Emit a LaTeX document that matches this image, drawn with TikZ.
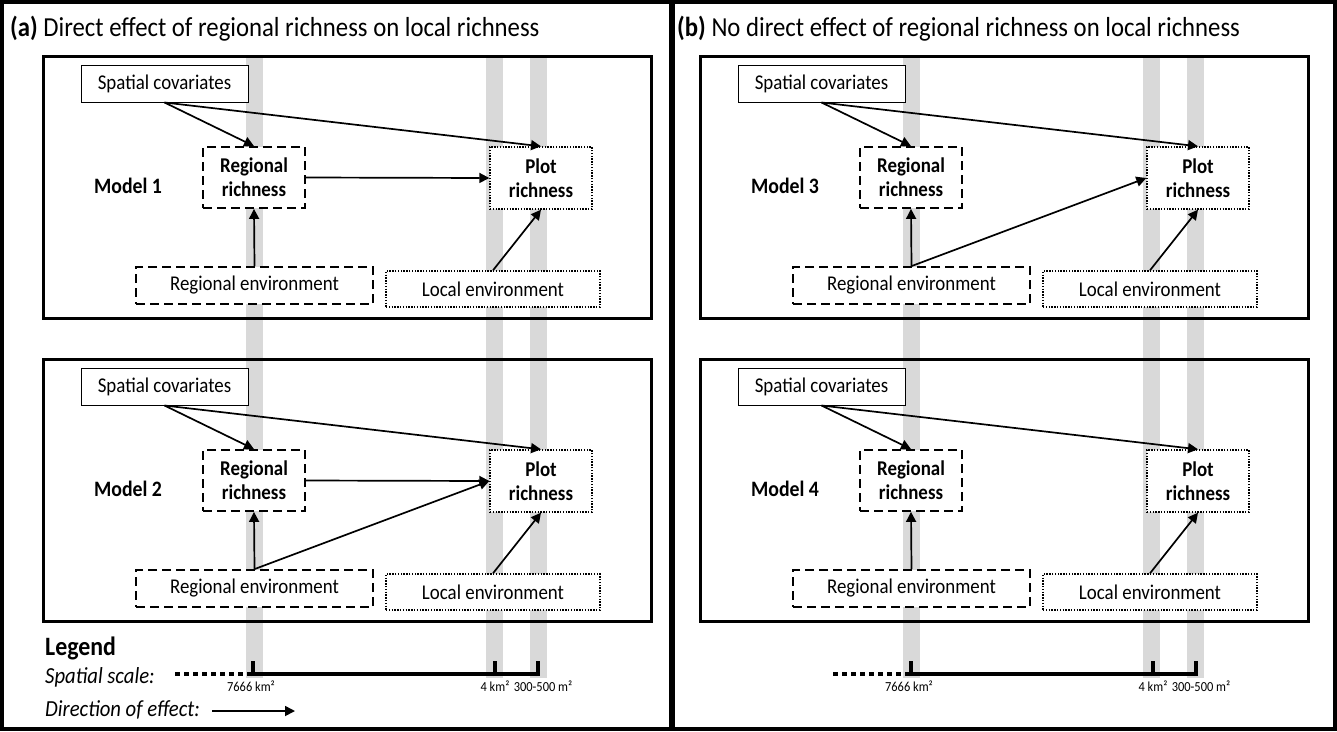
\documentclass[tikz,border=0pt]{standalone}
\usepackage{fontspec}
\setmainfont{Carlito}[FakeStretch=0.9]
\usetikzlibrary{arrows.meta}

\tikzset{
  box/.style={draw, fill=white, inner sep=0pt, align=center, font=\fontsize{21}{25}\selectfont},
  solidbox/.style={box, line width=1pt},
  dashbox/.style={box, line width=1.8pt, dash pattern=on 9pt off 5pt},
  dotbox/.style={box, line width=1.4pt, dash pattern=on 1.4pt off 1.4pt},
  richbox/.style={font=\fontsize{21}{24}\selectfont\bfseries, minimum width=102pt, minimum height=61pt},
  modelframe/.style={draw, line width=3pt, minimum width=608pt, minimum height=262pt, inner sep=0pt},
  modellabel/.style={font=\fontsize{22}{26}\selectfont\bfseries, inner sep=0pt},
  conn/.style={line width=1.7pt, -{Triangle[length=10pt,width=10pt]}},
  graybar/.style={fill=black!15, draw=none},
  scaledots/.style={line width=4pt, dash pattern=on 5pt off 4pt},
  scaleline/.style={line width=4pt},
  tickline/.style={line width=3.5pt},
  scalelabel/.style={font=\fontsize{13.8}{16}\selectfont, inner sep=0pt},
  titletext/.style={font=\fontsize{27.5}{32}\selectfont, inner sep=0pt, anchor=base west},
  legendtext/.style={font=\fontsize{23}{27}\selectfont\itshape, inner sep=0pt, anchor=base west}
}

\newcommand{\mpanel}[4]{%
  \begin{scope}[shift={(#2,#3)}]
    \node[modelframe] (frame#1) at (347,187) {};
    \node[solidbox, minimum width=167pt, minimum height=37pt] (sc#1) at (164.5,83.5) {Spatial covariates};
    \node[dashbox, richbox] (rr#1) at (254,177.5) {Regional\\richness};
    \node[dotbox, richbox, minimum height=62pt] (pr#1) at (541,178) {Plot\\richness};
    \node[dashbox, minimum width=237pt, minimum height=37pt] (re#1) at (254.5,285.5) {Regional environment};
    \node[dotbox, minimum width=214pt, minimum height=36pt] (le#1) at (493,289) {Local environment};
    \node[modellabel] (lab#1) at (128,186) {#4};
    \draw[conn] (sc#1.south) -- (rr#1.north);
    \draw[conn] (sc#1.south) -- (pr#1.north);
    \draw[conn] (re#1.north) -- (rr#1.south);
    \draw[conn] (le#1.north) -- (pr#1.south);
  \end{scope}}

\newcommand{\scalebar}[2]{%
  \begin{scope}[shift={(#2,0)}]
    \coordinate (d0#1) at (175,674);
    \coordinate (d1#1) at (247,674);
    \coordinate (t1#1) at (253,674);
    \coordinate (t2#1) at (495,674);
    \coordinate (t3#1) at (538,674);
    \coordinate (b1#1) at (253,676);
    \coordinate (b2#1) at (495,676);
    \coordinate (b3#1) at (538,676);
    \coordinate (u1#1) at (253,661);
    \coordinate (u2#1) at (495,661);
    \coordinate (u3#1) at (538,661);
    \draw[scaledots] (d0#1) -- (d1#1);
    \draw[scaleline] (d1#1) -- (t3#1);
    \draw[tickline] (b1#1) -- (u1#1);
    \draw[tickline] (b2#1) -- (u2#1);
    \draw[tickline] (b3#1) -- (u3#1);
    \node[scalelabel] (l1#1) at (251,686) {7666 km²};
    \node[scalelabel] (l2#1) at (495,686) {4 km²};
    \node[scalelabel] (l3#1) at (543,686) {300-500 m²};
  \end{scope}}

\begin{document}
\begin{tikzpicture}[x=1pt,y=-1pt]
  \useasboundingbox (0,0) rectangle (1337,731);
  \fill[white] (0,0) rectangle (1337,731);

  % gray scale bars
  \foreach \dx in {0,657} {
    \fill[graybar] (246+\dx,57) rectangle (263+\dx,678);
    \fill[graybar] (486+\dx,57) rectangle (503+\dx,678);
    \fill[graybar] (530+\dx,57) rectangle (547+\dx,678);
  }

  % outer frames
  \draw[line width=4pt] (2,2) rectangle (1335,729);
  \coordinate (divtop) at (671.5,0);
  \coordinate (divbot) at (671.5,731);
  \draw[line width=6pt] (divtop) -- (divbot);

  % titles
  \node[titletext] (ta) at (10,36) {\textbf{(a)} Direct effect of regional richness on local richness};
  \node[titletext] (tb) at (677,36) {\textbf{(b)} No direct effect of regional richness on local richness};

  % panel (a)
  \mpanel{A}{0}{0}{Model 1}
  \draw[conn] (rrA.east) -- (prA.west);

  \mpanel{B}{0}{303}{Model 2}
  \draw[conn] (rrB.east) -- (prB.west);
  \draw[conn] (reB.north) -- (prB.west);

  % panel (b)
  \mpanel{C}{657}{0}{Model 3}
  \draw[conn] (reC.north) -- (prC.west);

  \mpanel{D}{657}{303}{Model 4}

  % legend
  \node[font=\fontsize{26.5}{30}\selectfont\bfseries, inner sep=0pt, anchor=base west] (leg) at (45,655) {Legend};
  \node[legendtext] (ss) at (45,683) {Spatial scale:};
  \node[legendtext] (de) at (45,716) {Direction of effect:};
  \coordinate (la1) at (212,711);
  \coordinate (la2) at (295,711);
  \draw[conn] (la1) -- (la2);

  \scalebar{L}{0}
  \scalebar{R}{658}
\end{tikzpicture}
\end{document}
